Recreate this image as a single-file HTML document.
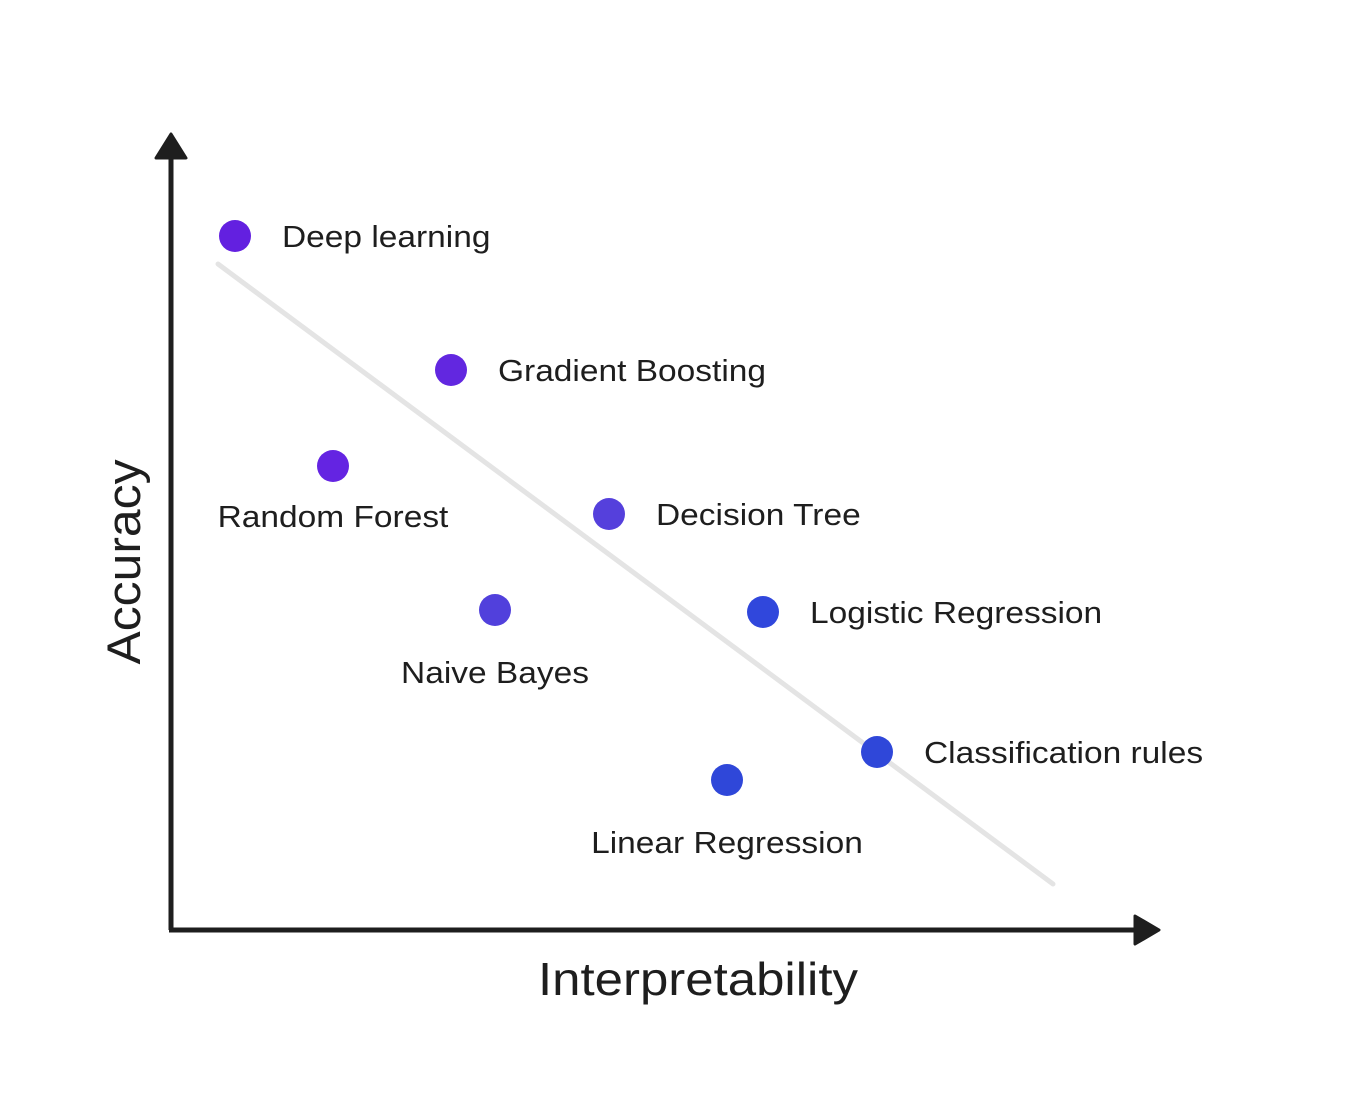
<!DOCTYPE html>
<html><head><meta charset="utf-8"><style>
html,body{margin:0;padding:0;background:#fff;}
svg{display:block;font-family:"Liberation Sans",sans-serif;}
</style></head><body>
<svg id="chart" width="1363" height="1099" viewBox="0 0 1363 1099">
<line x1="218" y1="264" x2="1053" y2="884" stroke="#e4e4e4" stroke-width="5" stroke-linecap="round"/>
<line x1="171" y1="155" x2="171" y2="930" stroke="#1e1e1e" stroke-width="5"/>
<polygon points="156,158 171,134 186,158" fill="#1e1e1e" stroke="#1e1e1e" stroke-width="3" stroke-linejoin="round"/>
<line x1="169" y1="930" x2="1138" y2="930" stroke="#1e1e1e" stroke-width="5"/>
<polygon points="1135,916 1159,930 1135,944" fill="#1e1e1e" stroke="#1e1e1e" stroke-width="3" stroke-linejoin="round"/>
<text x="698" y="995" font-size="46" text-anchor="middle" fill="#1e1e1e" textLength="320" lengthAdjust="spacingAndGlyphs">Interpretability</text>
<text transform="translate(140,562) rotate(-90)" font-size="47" text-anchor="middle" fill="#1e1e1e" textLength="205" lengthAdjust="spacingAndGlyphs">Accuracy</text>
<g id="points"></g>
</svg>
<script>
const names = ["Deep learning","Gradient Boosting","Random Forest","Decision Tree","Naive Bayes","Logistic Regression","Classification rules","Linear Regression"];
const interpretability = [64,280,162,438,324,592,706,556];
const accuracy = [694,560,464,416,320,318,178,150];
const labelPos = ["right","right","below","right","below","right","right","below"];
const colors = ["#6320e0","#6227e0","#6424e2","#5540dc","#5140dc","#3047dc","#2f47d9","#2f47d9"];
const belowGap = [0,0,61,0,73,0,0,73];
function xScale(v){return 171+v;}
function yScale(v){return 930-v;}
const g=document.getElementById('points');
const NS="http://www.w3.org/2000/svg";
for(let i=0;i<names.length;i++){
  const cx=xScale(interpretability[i]), cy=yScale(accuracy[i]);
  const c=document.createElementNS(NS,'circle');
  c.setAttribute('cx',cx);c.setAttribute('cy',cy);c.setAttribute('r',16);
  c.setAttribute('fill',colors[i]);
  
  
  g.appendChild(c);
  const t=document.createElementNS(NS,'text');
  t.setAttribute('font-size','31');t.setAttribute('fill','#1e1e1e');
  t.textContent=names[i];
  g.appendChild(t);
  const w=t.getComputedTextLength()*1.08;
  t.setAttribute('textLength',w);t.setAttribute('lengthAdjust','spacingAndGlyphs');
  if(labelPos[i]==='right'){t.setAttribute('x',cx+47);t.setAttribute('y',cy+11);}
  else{t.setAttribute('x',cx-w/2);t.setAttribute('y',cy+belowGap[i]);}
  
  
}
</script>
</body></html>
